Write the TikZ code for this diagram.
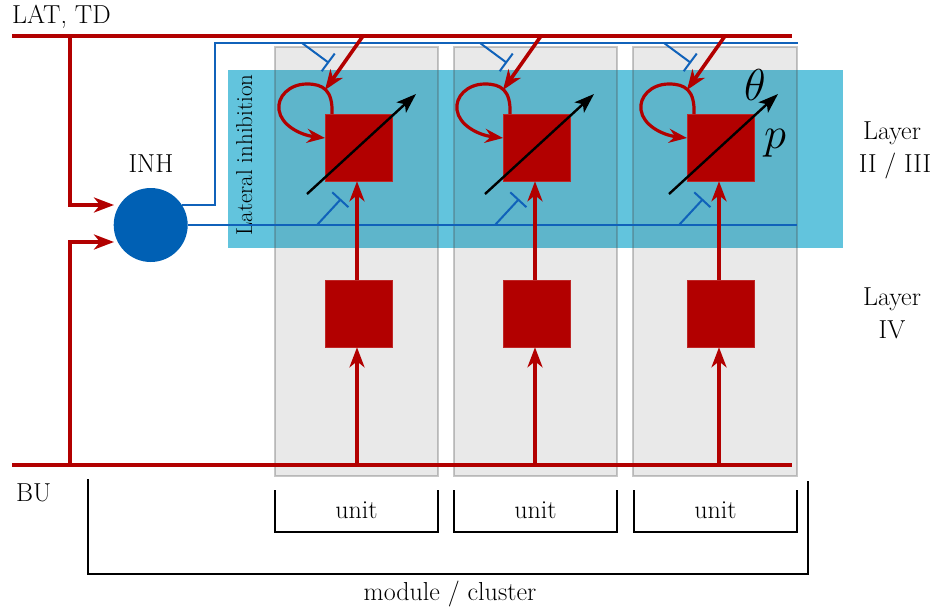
\documentclass[tikz,border=0pt]{standalone}
\usetikzlibrary{arrows.meta}
\definecolor{cred}{RGB}{178,0,0}
\definecolor{cblue}{RGB}{16,98,186}
\definecolor{cinh}{RGB}{0,96,180}
\definecolor{cband}{RGB}{98,196,221}
\definecolor{cgray}{RGB}{73,73,73}
\tikzset{
  txt/.style={font=\fontsize{26}{30}\selectfont, inner sep=0pt},
  mathlbl/.style={font=\fontsize{20.74}{24}\selectfont, scale=2.15, inner sep=0pt},
  redline/.style={draw=cred, line width=4pt},
  redarr/.style={draw=cred, line width=4pt, -{Stealth[length=20pt,width=15pt,inset=6pt]}},
  loopar/.style={draw=cred, line width=3.2pt, -{Stealth[length=18pt,width=14pt,inset=6pt]}},
  blueline/.style={draw=cblue, line width=2pt},
  inhib/.style={draw=cblue, line width=2pt, -{Bar[width=22pt,line width=2pt]}},
  blkarr/.style={draw=black, line width=2.4pt, -{Stealth[length=20pt,width=14pt,inset=5pt]}},
  unitsq/.style={rectangle, fill=cred, draw=cred!85!white, line width=0.6pt, minimum size=67pt, inner sep=0pt},
  colbox/.style={fill=cgray, fill opacity=0.12, draw=cgray, draw opacity=0.3, line width=2pt},
  brk/.style={draw=black, line width=2pt},
}
\begin{document}
\begin{tikzpicture}[x=1pt,y=-1pt]
\useasboundingbox (0,0) rectangle (939,610);
% band
\fill[cband] (228,70) rectangle (843,248);
\node[txt, font=\fontsize{23}{28}\selectfont, rotate=90, anchor=base] (lat) at (252,155) {Lateral inhibition};
% column boxes
\foreach \bl/\br in {275/438, 454/617, 633/797}{
  \path[colbox] (\bl,47) rectangle (\br,476);
}
% INH
\node[circle, fill=cinh, minimum size=74pt, inner sep=0pt] (inh) at (150.7,225) {};
\node[txt, anchor=base] (inhlbl) at (151,172) {INH};
% main lines
\coordinate (ltdL) at (12,36);
\coordinate (ltdR) at (792,36);
\coordinate (buL) at (12,465);
\coordinate (buR) at (792,465);
\coordinate (ltdJ) at (70,36);
\coordinate (buJ) at (70,465);
\coordinate (inA) at (114,205);
\coordinate (inB) at (114,242);
\draw[redline] (ltdL) -- (ltdR);
\draw[redline] (buL) -- (buR);
\draw[redarr] (ltdJ) |- (inA);
\draw[redarr] (buJ) |- (inB);
\coordinate (blueTopR) at (798,43);
\coordinate (blueLowR) at (797,225);
\draw[blueline] (inh.32) -| (215,43) -- (blueTopR);
\draw[blueline] (inh.east) -- (blueLowR);
% units
\foreach \s [count=\i] in {325, 503, 687}{
  \node[unitsq] (a\i) at (\s+33.5,147.5) {};
  \node[unitsq] (b\i) at (\s+33.5,313.5) {};
  \coordinate (bu\i) at (\s+32,465);
  \coordinate (td\i) at (\s+38,36);
  \coordinate (tdT\i) at (\s,90);
  \coordinate (ti\i) at (\s-23,43);
  \coordinate (tiT\i) at (\s+4,63);
  \coordinate (li\i) at (\s-8,225);
  \coordinate (liT\i) at (\s+16,199);
  \coordinate (pa\i) at (\s-18,194);
  \coordinate (pb\i) at (\s+91,94);
  \coordinate (lpS\i) at (\s+7,114);
  \coordinate (lpE\i) at (\s,138);
  \draw[inhib] (ti\i) -- (tiT\i);
  \draw[inhib] (li\i) -- (liT\i);
  \draw[redarr] (bu\i) -- (bu\i |- b\i.south);
  \draw[redarr] (bu\i |- b\i.north) -- (bu\i |- a\i.south);
  \draw[redarr, line width=3.6pt] (td\i) -- (tdT\i);
  \draw[loopar] (lpS\i) .. controls (\s+8,90) and (\s-2,84) .. (\s-18,84)
     .. controls (\s-36,84) and (\s-48,97) .. (\s-46,110)
     .. controls (\s-44,125) and (\s-25,135) .. (lpE\i);
  \draw[blkarr] (pa\i) -- (pb\i);
}
\node[mathlbl] (theta) at (755,85) {$\theta$};
\node[mathlbl] (pp) at (775,143) {$p$};
% labels
\node[txt, anchor=base west] (ltd) at (12,24) {LAT, TD};
\node[txt, anchor=base west] (bu) at (16,501) {BU};
\node[txt, anchor=base] (l1a) at (892,139) {Layer};
\node[txt, anchor=base] (l1b) at (895,172) {II / III};
\node[txt, anchor=base] (l2a) at (892,305) {Layer};
\node[txt, anchor=base] (l2b) at (892,338) {IV};
% brackets
\foreach \bl/\br [count=\i] in {275/438, 454/617, 634/797}{
  \draw[brk] (\bl,490) |- (\br,532) -- (\br,490);
  \node[txt, anchor=base] (u\i) at ({(\bl+\br)/2},518) {unit};
}
\draw[brk] (88,479) |- (808,574) -- (808,481);
\node[txt, anchor=base] (mod) at (450,600) {module / cluster};
\end{tikzpicture}
\end{document}
